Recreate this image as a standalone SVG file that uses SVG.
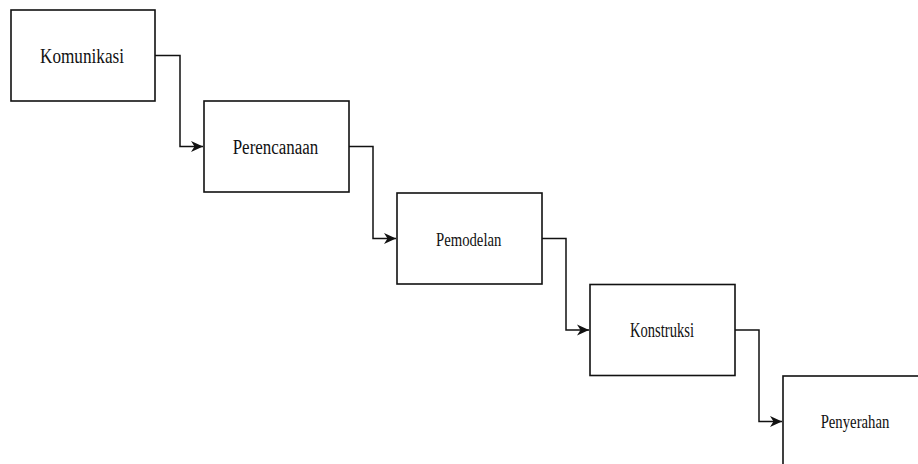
<svg xmlns="http://www.w3.org/2000/svg" width="918" height="464" viewBox="0 0 918 464">
<style>
.box{fill:#fff;stroke:#111;stroke-width:1.6}
.lbl{fill:#111;text-anchor:middle;font-family:"Liberation Serif","Times New Roman",serif}
.con{fill:none;stroke:#111;stroke-width:1.5}
</style>
<defs>
<marker id="arr" markerUnits="userSpaceOnUse" markerWidth="13" markerHeight="12" refX="12" refY="6" orient="auto">
<path d="M0,0.5 L12,6 L0,11.5 L3.5,6 Z" fill="#111"/>
</marker>
</defs>
<rect width="918" height="464" fill="#fff"/>
<g id="connectors">
<path class="con" d="M155,55.5 H180 V146.5 H203" marker-end="url(#arr)"/>
<path class="con" d="M349,146.5 H373 V238.5 H396" marker-end="url(#arr)"/>
<path class="con" d="M542,238.5 H566 V330 H589" marker-end="url(#arr)"/>
<path class="con" d="M735,330 H759 V421.5 H782" marker-end="url(#arr)"/>
</g>
<g id="komunikasi">
<rect class="box" x="11" y="10" width="144" height="91"/>
<text class="lbl" x="82" y="62.7" font-size="22" textLength="84" lengthAdjust="spacingAndGlyphs">Komunikasi</text>
</g>
<g id="perencanaan">
<rect class="box" x="204" y="101" width="145" height="91"/>
<text class="lbl" x="275.5" y="154" font-size="20" textLength="85.6" lengthAdjust="spacingAndGlyphs">Perencanaan</text>
</g>
<g id="pemodelan">
<rect class="box" x="397" y="193" width="145" height="91"/>
<text class="lbl" x="468.7" y="245.7" font-size="19" textLength="65.3" lengthAdjust="spacingAndGlyphs">Pemodelan</text>
</g>
<g id="konstruksi">
<rect class="box" x="590" y="284.5" width="145" height="91"/>
<text class="lbl" x="662" y="337.3" font-size="20" textLength="64" lengthAdjust="spacingAndGlyphs">Konstruksi</text>
</g>
<g id="penyerahan">
<rect class="box" x="783" y="376" width="145" height="91"/>
<text class="lbl" x="855" y="428.3" font-size="19" textLength="68.7" lengthAdjust="spacingAndGlyphs">Penyerahan</text>
</g>
</svg>
